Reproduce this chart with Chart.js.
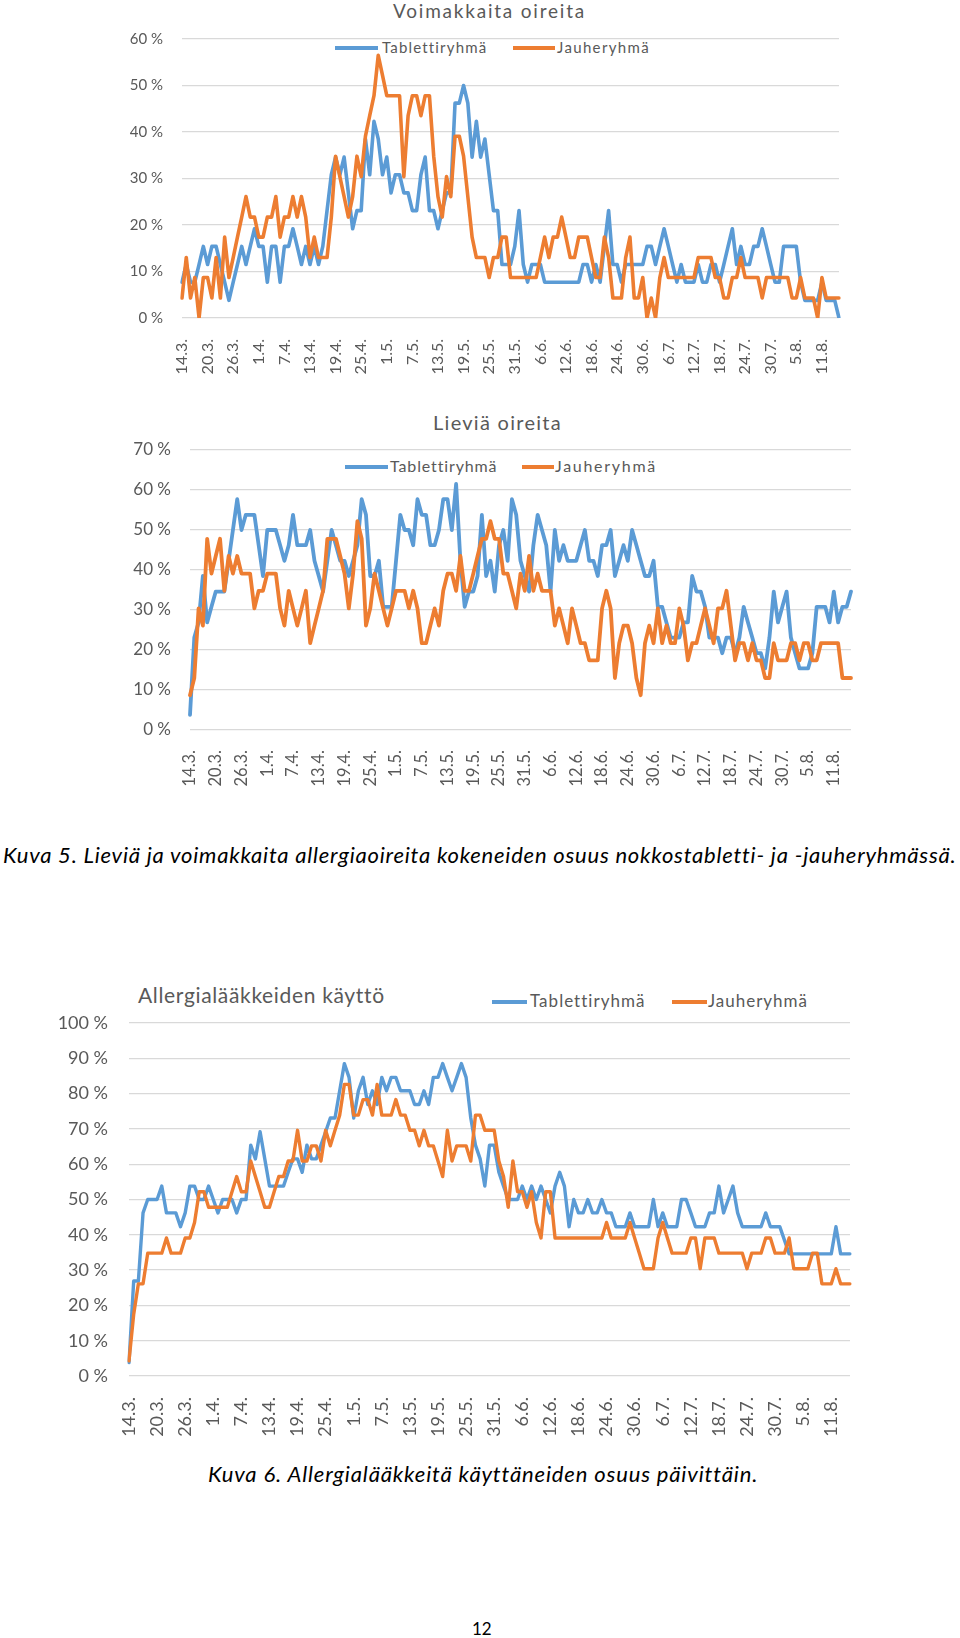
<!DOCTYPE html>
<html lang="fi">
<head>
<meta charset="utf-8">
<title>Allergiaoireet ja allergialääkkeiden käyttö</title>
<script src="https://cdn.jsdelivr.net/npm/chart.js@4.4.1/dist/chart.umd.min.js"></script>
<style>
  body { margin: 0; background: #fff; font-family: Lato, 'Open Sans', sans-serif; }
  #page { position: relative; width: 960px; height: 1638px; overflow: hidden; }
  canvas { position: absolute; }
  .t { position: absolute; color: #595959; white-space: nowrap; line-height: 1; }
  .ln { position: absolute; height: 3.5px; }
  .cap { position: absolute; color: #000; white-space: nowrap; line-height: 1; font-style: italic; font-size: 22px; }
</style>
</head>
<body>
<div id="page">
  <!-- Kuva 5, ylempi: voimakkaat oireet -->
  <div class="t" id="t1" style="left:393px; top:1px; font-size:19px;">Voimakkaita oireita</div>
  <div class="ln" style="left:335px; top:46px; width:43px; background:#5b9bd5;"></div>
  <div class="t" id="l1a" style="left:382px; top:40px; font-size:15px;">Tablettiryhmä</div>
  <div class="ln" style="left:513px; top:46px; width:42px; background:#ed7d31;"></div>
  <div class="t" id="l1b" style="left:557px; top:40px; font-size:15px;">Jauheryhmä</div>
  <canvas id="c1" width="770" height="350" style="left:90px; top:30px;"></canvas>

  <!-- Kuva 5, alempi: lievät oireet -->
  <div class="t" id="t2" style="left:433px; top:412px; font-size:20px;">Lieviä oireita</div>
  <div class="ln" style="left:345px; top:465px; width:43px; background:#5b9bd5;"></div>
  <div class="t" id="l2a" style="left:390px; top:458px; font-size:16px;">Tablettiryhmä</div>
  <div class="ln" style="left:522px; top:465px; width:32px; background:#ed7d31;"></div>
  <div class="t" id="l2b" style="left:555px; top:458px; font-size:16px;">Jauheryhmä</div>
  <canvas id="c2" width="770" height="350" style="left:90px; top:440px;"></canvas>

  <div class="cap" id="cap1" style="left:3px; top:844px;">Kuva 5. Lieviä ja voimakkaita allergiaoireita kokeneiden osuus nokkostabletti- ja -jauheryhmässä.</div>

  <!-- Kuva 6: lääkkeiden käyttö -->
  <div class="t" id="t3" style="left:138px; top:984px; font-size:21px;">Allergialääkkeiden käyttö</div>
  <div class="ln" style="left:492px; top:1000px; width:35px; background:#5b9bd5;"></div>
  <div class="t" id="l3a" style="left:530px; top:992px; font-size:17px;">Tablettiryhmä</div>
  <div class="ln" style="left:672px; top:1000px; width:35px; background:#ed7d31;"></div>
  <div class="t" id="l3b" style="left:708px; top:992px; font-size:17px;">Jauheryhmä</div>
  <canvas id="c3" width="820" height="430" style="left:40px; top:1010px;"></canvas>

  <div class="cap" id="cap2" style="left:208px; top:1463px;">Kuva 6. Allergialääkkeitä käyttäneiden osuus päivittäin.</div>
  <div class="cap" style="left:472px; top:1620px; font-size:17px; font-style:normal;">12</div>
</div>

<script>
// Päivittäiset osuudet (%) 14.3.–15.8., yksi arvo per päivä

// Voimakkaita oireita
const strongTablet = [
  7.7, 11.5, 7.7, 7.7, 11.5, 15.4, 11.5, 15.4, 15.4, 11.5,
  7.7, 3.8, 7.7, 11.5, 15.4, 11.5, 15.4, 19.2, 15.4, 15.4,
  7.7, 15.4, 15.4, 7.7, 15.4, 15.4, 19.2, 15.4, 11.5, 15.4,
  11.5, 15.4, 11.5, 15.4, 23.1, 30.8, 34.6, 30.8, 34.6, 26.9,
  19.2, 23.1, 23.1, 38.5, 30.8, 42.3, 38.5, 30.8, 34.6, 26.9,
  30.8, 30.8, 26.9, 26.9, 23.1, 23.1, 30.8, 34.6, 23.1, 23.1,
  19.2, 23.1, 26.9, 26.9, 46.2, 46.2, 50, 46.2, 34.6, 42.3,
  34.6, 38.5, 30.8, 23.1, 23.1, 11.5, 11.5, 11.5, 15.4, 23.1,
  11.5, 7.7, 11.5, 11.5, 11.5, 7.7, 7.7, 7.7, 7.7, 7.7,
  7.7, 7.7, 7.7, 7.7, 11.5, 11.5, 7.7, 11.5, 7.7, 15.4,
  23.1, 11.5, 11.5, 7.7, 11.5, 11.5, 11.5, 11.5, 11.5, 15.4,
  15.4, 11.5, 15.4, 19.2, 15.4, 11.5, 7.7, 11.5, 7.7, 7.7,
  7.7, 11.5, 7.7, 7.7, 11.5, 11.5, 7.7, 11.5, 15.4, 19.2,
  11.5, 15.4, 11.5, 11.5, 15.4, 15.4, 19.2, 15.4, 11.5, 7.7,
  7.7, 15.4, 15.4, 15.4, 15.4, 7.7, 3.8, 3.8, 3.8, 3.8,
  7.7, 3.8, 3.8, 3.8, 0
];
const strongPowder = [
  4.3, 13.0, 4.3, 8.7, 0, 8.7, 8.7, 4.3, 13.0, 4.3,
  17.4, 8.7, 13.0, 17.4, 21.7, 26.1, 21.7, 21.7, 17.4, 17.4,
  21.7, 21.7, 26.1, 17.4, 21.7, 21.7, 26.1, 21.7, 26.1, 21.7,
  13.0, 17.4, 13.0, 13.0, 13.0, 21.7, 34.8, 30.4, 26.1, 21.7,
  26.1, 34.8, 30.4, 39.1, 43.5, 47.8, 56.5, 52.2, 47.8, 47.8,
  47.8, 47.8, 30.4, 43.5, 47.8, 47.8, 43.5, 47.8, 47.8, 34.8,
  26.1, 21.7, 30.4, 26.1, 39.1, 39.1, 34.8, 26.1, 17.4, 13.0,
  13.0, 13.0, 8.7, 13.0, 13.0, 17.4, 17.4, 8.7, 8.7, 8.7,
  8.7, 8.7, 8.7, 8.7, 13.0, 17.4, 13.0, 17.4, 17.4, 21.7,
  17.4, 13.0, 13.0, 17.4, 17.4, 17.4, 13.0, 8.7, 8.7, 17.4,
  13.0, 4.3, 4.3, 4.3, 13.0, 17.4, 4.3, 4.3, 8.7, 0,
  4.3, 0, 8.7, 13.0, 8.7, 8.7, 8.7, 8.7, 8.7, 8.7,
  8.7, 13.0, 13.0, 13.0, 13.0, 8.7, 8.7, 4.3, 4.3, 8.7,
  8.7, 13.0, 8.7, 8.7, 8.7, 8.7, 4.3, 8.7, 8.7, 8.7,
  8.7, 8.7, 8.7, 4.3, 4.3, 8.7, 4.3, 4.3, 4.3, 0,
  8.7, 4.3, 4.3, 4.3, 4.3
];

// Lieviä oireita
const mildTablet = [
  3.8, 23.1, 26.9, 38.5, 26.9, 30.8, 34.6, 34.6, 34.6, 42.3,
  50, 57.7, 50, 53.8, 53.8, 53.8, 46.2, 38.5, 50, 50,
  50, 46.2, 42.3, 46.2, 53.8, 46.2, 46.2, 46.2, 50, 42.3,
  38.5, 34.6, 42.3, 50, 46.2, 42.3, 42.3, 38.5, 42.3, 46.2,
  57.7, 53.8, 38.5, 38.5, 42.3, 30.8, 30.8, 30.8, 42.3, 53.8,
  50, 50, 46.2, 57.7, 53.8, 53.8, 46.2, 46.2, 50, 57.7,
  57.7, 50, 61.5, 42.3, 30.8, 34.6, 34.6, 38.5, 53.8, 38.5,
  42.3, 34.6, 46.2, 50, 42.3, 57.7, 53.8, 42.3, 38.5, 34.6,
  46.2, 53.8, 50, 46.2, 34.6, 50, 42.3, 46.2, 42.3, 42.3,
  42.3, 46.2, 50, 42.3, 42.3, 38.5, 46.2, 46.2, 50, 38.5,
  42.3, 46.2, 42.3, 50, 46.2, 42.3, 38.5, 38.5, 42.3, 30.8,
  30.8, 26.9, 23.1, 23.1, 23.1, 26.9, 26.9, 38.5, 34.6, 34.6,
  30.8, 23.1, 23.1, 23.1, 19.2, 23.1, 23.1, 19.2, 23.1, 30.8,
  26.9, 23.1, 19.2, 19.2, 15.4, 23.1, 34.6, 26.9, 30.8, 34.6,
  23.1, 19.2, 15.4, 15.4, 15.4, 19.2, 30.8, 30.8, 30.8, 26.9,
  34.6, 26.9, 30.8, 30.8, 34.6
];
const mildPowder = [
  8.7, 13.0, 30.4, 26.1, 47.8, 39.1, 43.5, 47.8, 34.8, 43.5,
  39.1, 43.5, 39.1, 39.1, 39.1, 30.4, 34.8, 34.8, 39.1, 39.1,
  39.1, 30.4, 26.1, 34.8, 30.4, 26.1, 30.4, 34.8, 21.7, 26.1,
  30.4, 34.8, 47.8, 47.8, 47.8, 43.5, 39.1, 30.4, 39.1, 52.2,
  47.8, 26.1, 30.4, 39.1, 34.8, 30.4, 26.1, 30.4, 34.8, 34.8,
  34.8, 30.4, 34.8, 30.4, 21.7, 21.7, 26.1, 30.4, 26.1, 34.8,
  39.1, 39.1, 34.8, 43.5, 34.8, 34.8, 39.1, 43.5, 47.8, 47.8,
  52.2, 47.8, 47.8, 39.1, 39.1, 34.8, 30.4, 39.1, 34.8, 43.5,
  34.8, 39.1, 34.8, 34.8, 34.8, 26.1, 30.4, 26.1, 21.7, 30.4,
  26.1, 21.7, 21.7, 17.4, 17.4, 17.4, 30.4, 34.8, 30.4, 13.0,
  21.7, 26.1, 26.1, 21.7, 13.0, 8.7, 21.7, 26.1, 21.7, 30.4,
  21.7, 26.1, 21.7, 21.7, 30.4, 26.1, 17.4, 21.7, 21.7, 26.1,
  30.4, 26.1, 21.7, 30.4, 30.4, 34.8, 26.1, 17.4, 21.7, 21.7,
  17.4, 21.7, 17.4, 17.4, 13.0, 13.0, 21.7, 17.4, 17.4, 17.4,
  21.7, 21.7, 17.4, 21.7, 21.7, 17.4, 17.4, 21.7, 21.7, 21.7,
  21.7, 21.7, 13.0, 13.0, 13.0
];

// Allergialääkkeiden käyttö
const medTablet = [
  3.8, 26.9, 26.9, 46.2, 50, 50, 50, 53.8, 46.2, 46.2,
  46.2, 42.3, 46.2, 53.8, 53.8, 50, 50, 53.8, 50, 46.2,
  50, 50, 50, 46.2, 50, 50, 65.4, 61.5, 69.2, 61.5,
  53.8, 53.8, 53.8, 53.8, 57.7, 61.5, 61.5, 57.7, 65.4, 61.5,
  61.5, 65.4, 69.2, 73.1, 73.1, 80.8, 88.5, 84.6, 73.1, 80.8,
  84.6, 76.9, 80.8, 76.9, 84.6, 80.8, 84.6, 84.6, 80.8, 80.8,
  80.8, 76.9, 76.9, 80.8, 76.9, 84.6, 84.6, 88.5, 84.6, 80.8,
  84.6, 88.5, 84.6, 73.1, 65.4, 61.5, 53.8, 65.4, 65.4, 57.7,
  53.8, 50, 50, 50, 53.8, 50, 53.8, 50, 53.8, 50,
  46.2, 53.8, 57.7, 53.8, 42.3, 50, 46.2, 46.2, 50, 46.2,
  46.2, 50, 46.2, 46.2, 42.3, 42.3, 42.3, 46.2, 42.3, 42.3,
  42.3, 42.3, 50, 42.3, 46.2, 42.3, 42.3, 42.3, 50, 50,
  46.2, 42.3, 42.3, 42.3, 46.2, 46.2, 53.8, 46.2, 50, 53.8,
  46.2, 42.3, 42.3, 42.3, 42.3, 42.3, 46.2, 42.3, 42.3, 42.3,
  38.5, 34.6, 34.6, 34.6, 34.6, 34.6, 34.6, 34.6, 34.6, 34.6,
  34.6, 42.3, 34.6, 34.6, 34.6
];
const medPowder = [
  4.3, 17.4, 26.1, 26.1, 34.8, 34.8, 34.8, 34.8, 39.1, 34.8,
  34.8, 34.8, 39.1, 39.1, 43.5, 52.2, 52.2, 47.8, 47.8, 47.8,
  47.8, 47.8, 52.2, 56.5, 52.2, 52.2, 60.9, 56.5, 52.2, 47.8,
  47.8, 52.2, 56.5, 56.5, 60.9, 60.9, 69.6, 60.9, 60.9, 65.2,
  65.2, 60.9, 69.6, 65.2, 69.6, 73.9, 82.6, 82.6, 73.9, 73.9,
  78.3, 78.3, 73.9, 82.6, 73.9, 73.9, 73.9, 78.3, 73.9, 73.9,
  69.6, 69.6, 65.2, 69.6, 65.2, 65.2, 60.9, 56.5, 69.6, 60.9,
  65.2, 65.2, 65.2, 60.9, 73.9, 73.9, 69.6, 69.6, 69.6, 60.9,
  56.5, 47.8, 60.9, 52.2, 52.2, 47.8, 52.2, 43.5, 39.1, 52.2,
  52.2, 39.1, 39.1, 39.1, 39.1, 39.1, 39.1, 39.1, 39.1, 39.1,
  39.1, 39.1, 43.5, 39.1, 39.1, 39.1, 39.1, 43.5, 39.1, 34.8,
  30.4, 30.4, 30.4, 39.1, 43.5, 39.1, 34.8, 34.8, 34.8, 34.8,
  39.1, 39.1, 30.4, 39.1, 39.1, 39.1, 34.8, 34.8, 34.8, 34.8,
  34.8, 34.8, 30.4, 34.8, 34.8, 34.8, 39.1, 39.1, 34.8, 34.8,
  34.8, 39.1, 30.4, 30.4, 30.4, 30.4, 34.8, 34.8, 26.1, 26.1,
  26.1, 30.4, 26.1, 26.1, 26.1
];

const BLUE = '#5b9bd5';
const ORANGE = '#ed7d31';
const TEXT = '#595959';

// päivämäärät 14.3. alkaen, akselilla näytetään joka kuudes
const days = [];
const start = new Date(2016, 2, 14);
for (let i = 0; i < strongTablet.length; i++) {
    const d = new Date(start.getTime());
    d.setDate(start.getDate() + i);
    days.push(d.getDate() + '.' + (d.getMonth() + 1) + '.');
}

Chart.defaults.font.family = 'Lato, "Open Sans", sans-serif';
Chart.defaults.color = TEXT;

function makeChart(id, tablet, powder, cfg) {
    const canvas = document.getElementById(id);
    new Chart(canvas, {
        type: 'line',
        data: {
            labels: days,
            datasets: [
                {
                    label: 'Tablettiryhmä',
                    data: tablet,
                    borderColor: BLUE,
                    backgroundColor: BLUE,
                    borderWidth: cfg.lineWidth,
                    pointRadius: 0,
                    tension: 0,
                    borderJoinStyle: 'round',
                    borderCapStyle: 'round',
                    order: 2
                },
                {
                    label: 'Jauheryhmä',
                    data: powder,
                    borderColor: ORANGE,
                    backgroundColor: ORANGE,
                    borderWidth: cfg.lineWidth,
                    pointRadius: 0,
                    tension: 0,
                    borderJoinStyle: 'round',
                    borderCapStyle: 'round',
                    order: 1
                }
            ]
        },
        options: {
            responsive: false,
            animation: false,
            devicePixelRatio: 1,
            layout: {
                padding: { top: cfg.padTop, right: cfg.padRight, left: 0, bottom: 0 }
            },
            plugins: {
                legend: { display: false },
                title: { display: false },
                tooltip: { enabled: false }
            },
            scales: {
                x: {
                    grid: { display: false },
                    border: { display: false },
                    ticks: {
                        autoSkip: false,
                        minRotation: 90,
                        maxRotation: 90,
                        padding: cfg.xPad,
                        color: TEXT,
                        font: { size: cfg.xFont },
                        callback: function(value, index) {
                            return index % 6 === 0 ? this.getLabelForValue(value) : '';
                        }
                    },
                    // kiinteä korkeus, ei ylimääräistä reunatilaa
                    afterFit: (scale) => {
                        scale.height = cfg.xHeight;
                        scale.paddingLeft = 0;
                        scale.paddingRight = 0;
                    }
                },
                y: {
                    min: 0,
                    max: cfg.yMax,
                    grid: { color: '#d9d9d9', lineWidth: 1.3, drawTicks: false },
                    border: { display: false },
                    ticks: {
                        stepSize: 10,
                        padding: cfg.yPad,
                        color: TEXT,
                        font: { size: cfg.yFont },
                        callback: (v) => v + ' %'
                    },
                    afterFit: (scale) => {
                        scale.width = cfg.yWidth;
                        scale.paddingTop = 0;
                        scale.paddingBottom = 0;
                    }
                }
            }
        }
    });
}

makeChart('c1', strongTablet, strongPowder, {
    yMax: 60, padTop: 9, padRight: 21, yWidth: 92, xHeight: 62,
    yPad: 19, xPad: 13, yFont: 15, xFont: 16, lineWidth: 3.6
});
makeChart('c2', mildTablet, mildPowder, {
    yMax: 70, padTop: 10, padRight: 9, yWidth: 100, xHeight: 60,
    yPad: 19, xPad: 12, yFont: 17, xFont: 16.5, lineWidth: 3.8
});
makeChart('c3', medTablet, medPowder, {
    yMax: 100, padTop: 13, padRight: 10, yWidth: 89, xHeight: 64,
    yPad: 21, xPad: 13, yFont: 18, xFont: 18, lineWidth: 3.4
});

// tekstien leveys vastaamaan alkuperäistä
function fitWidth(id, target) {
    const el = document.getElementById(id);
    const n = el.textContent.length;
    const w = el.getBoundingClientRect().width;
    el.style.letterSpacing = ((target - w) / n).toFixed(2) + 'px';
}
fitWidth('t1', 193);
fitWidth('t2', 129);
fitWidth('t3', 246);
fitWidth('l1a', 105);
fitWidth('l1b', 93);
fitWidth('l2a', 107);
fitWidth('l2b', 102);
fitWidth('l3a', 115);
fitWidth('l3b', 100);
fitWidth('cap1', 952);
fitWidth('cap2', 548);
</script>
</body>
</html>
